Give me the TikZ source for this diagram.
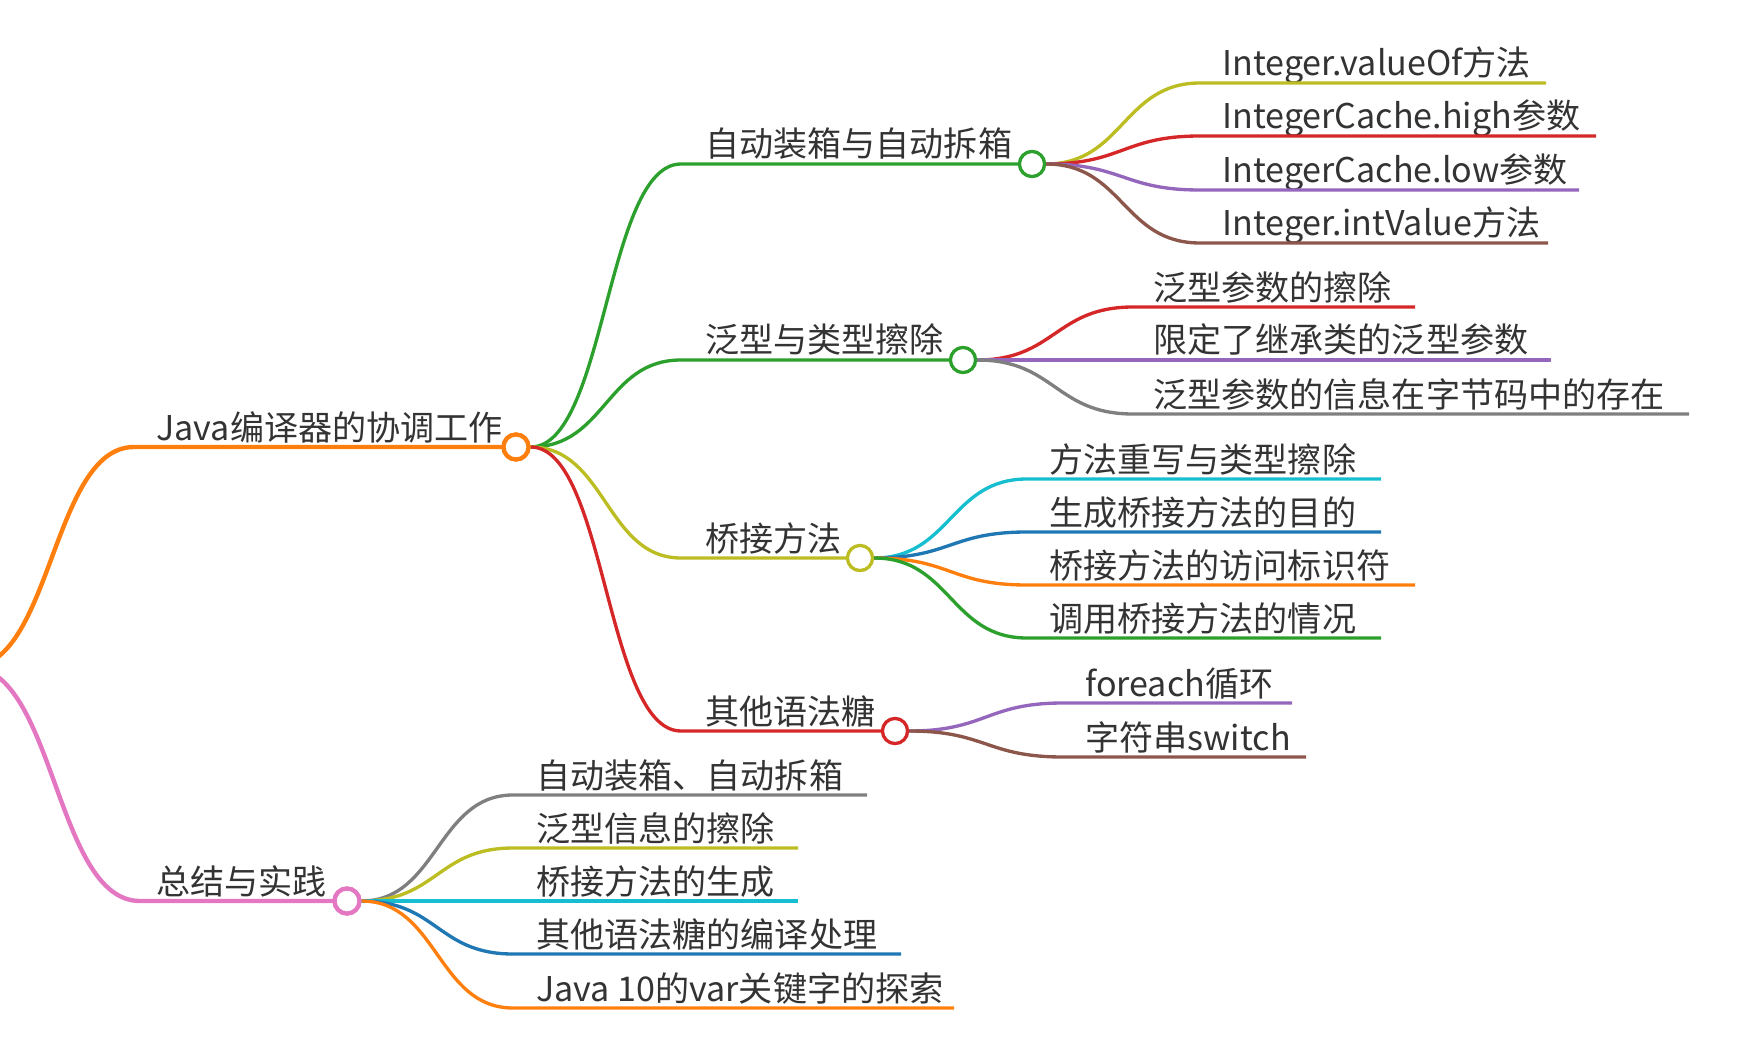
\documentclass[tikz,border=0pt]{standalone}
\usepackage{fontspec}
\setmainfont{Noto Sans CJK SC}
\usetikzlibrary{calc}
\definecolor{cOrange}{HTML}{FF7F0E}
\definecolor{cGreen}{HTML}{2CA02C}
\definecolor{cRed}{HTML}{D62728}
\definecolor{cPurple}{HTML}{9467BD}
\definecolor{cBrown}{HTML}{8C564B}
\definecolor{cPink}{HTML}{E377C2}
\definecolor{cGray}{HTML}{7F7F7F}
\definecolor{cOlive}{HTML}{BCBD22}
\definecolor{cCyan}{HTML}{17BECF}
\definecolor{cBlue}{HTML}{1F77B4}
\definecolor{textgray}{HTML}{333333}
\tikzset{
  branch/.style={to path={let \p1=(\tikztostart), \p2=(\tikztotarget) in
     .. controls ({(\x1+\x2)/2},\y1) and ({(\x1+\x2)/2},\y2) .. (\tikztotarget)}},
  dot/.style={circle,draw,fill=white,line width=1.8pt,minimum size=0.5cm,inner sep=0pt},
  lbl/.style={anchor=base west,inner sep=0pt,text=textgray,font=\fontsize{19.4}{23}\selectfont},
  thick1/.style={line width=2.5pt},
  thick2/.style={line width=1.9pt},
}
\begin{document}
\begin{tikzpicture}[x=0.02cm,y=-0.02cm]
\useasboundingbox (0,0) rectangle (1750,1057);
\coordinate (root) at (-30,667);

% ---------- level 1 ----------
\coordinate (js) at (134,447);
\node[lbl] (jt) at (156,440) {Java编译器的协调工作};
\draw[cOrange,thick1] (root) to[branch] (js) -- (516,447);
\node[dot,draw=cOrange,line width=2.4pt] (jc) at (516,447) {};

\coordinate (ss) at (140,901);
\node[lbl] (st) at (156,894) {总结与实践};
\draw[cPink,thick1] (root) to[branch] (ss) -- (347,901);
\node[dot,draw=cPink,line width=2.4pt] (sc) at (347,901) {};

% ---------- level 2 ----------
\coordinate (as) at (681,164);
\coordinate (gs) at (681,360);
\coordinate (bs) at (681,558);
\coordinate (os) at (681,731);
\node[lbl] (at) at (705,157) {自动装箱与自动拆箱};
\node[lbl] (gt) at (705,353) {泛型与类型擦除};
\node[lbl] (bt) at (705,551) {桥接方法};
\node[lbl] (ot) at (705,724) {其他语法糖};
\draw[cGreen,thick2] (jc.east) to[branch] (as) -- (1032,164);
\draw[cGreen,thick2] (jc.east) to[branch] (gs) -- (963,360);
\draw[cOlive,thick2] (jc.east) to[branch] (bs) -- (860,558);
\draw[cRed,thick2] (jc.east) to[branch] (os) -- (895,731);
\node[dot,draw=cGreen] (ac) at (1032,164) {};
\node[dot,draw=cGreen] (gc) at (963,360) {};
\node[dot,draw=cOlive] (bc) at (860,558) {};
\node[dot,draw=cRed] (oc) at (895,731) {};

% ---------- auto boxing children ----------
\foreach \k/\yv/\ev/\cv/\tv in {1/83/1546/cOlive/Integer.valueOf方法,
                             2/136/1596/cRed/IntegerCache.high参数,
                             3/190/1579/cPurple/IntegerCache.low参数,
                             4/243/1548/cBrown/Integer.intValue方法}{
  \coordinate (a\k s) at (1200,\yv);
  \coordinate (a\k e) at (\ev,\yv);
  \node[lbl] (a\k t) at (1222,\yv-7) {\tv};
  \draw[\cv,thick2] (ac.east) to[branch] (a\k s) -- (a\k e);
}
% ---------- generics children ----------
\foreach \k/\yv/\ev/\cv/\tv in {1/307/1415/cRed/泛型参数的擦除,
                             2/360/1551/cPurple/限定了继承类的泛型参数,
                             3/414/1689/cGray/泛型参数的信息在字节码中的存在}{
  \coordinate (g\k s) at (1133,\yv);
  \coordinate (g\k e) at (\ev,\yv);
  \node[lbl] (g\k t) at (1153,\yv-7) {\tv};
  \draw[\cv,thick2] (gc.east) to[branch] (g\k s) -- (g\k e);
}
% ---------- bridge children ----------
\foreach \k/\yv/\ev/\cv/\tv in {1/479/1381/cCyan/方法重写与类型擦除,
                             2/532/1381/cBlue/生成桥接方法的目的,
                             3/585/1415/cOrange/桥接方法的访问标识符,
                             4/638/1381/cGreen/调用桥接方法的情况}{
  \coordinate (b\k s) at (1027,\yv);
  \coordinate (b\k e) at (\ev,\yv);
  \node[lbl] (b\k t) at (1049,\yv-7) {\tv};
  \draw[\cv,thick2] (bc.east) to[branch] (b\k s) -- (b\k e);
}
% ---------- other sugar children ----------
\foreach \k/\yv/\ev/\cv/\tv in {1/703/1292/cPurple/foreach循环,
                             2/757/1306/cBrown/字符串switch}{
  \coordinate (o\k s) at (1063,\yv);
  \coordinate (o\k e) at (\ev,\yv);
  \node[lbl] (o\k t) at (1085,\yv-7) {\tv};
  \draw[\cv,thick2] (oc.east) to[branch] (o\k s) -- (o\k e);
}
% ---------- summary children ----------
\foreach \k/\yv/\ev/\cv/\tv in {1/795/867/cGray/自动装箱、自动拆箱,
                             2/848/798/cOlive/泛型信息的擦除,
                             3/901/798/cCyan/桥接方法的生成,
                             4/954/901/cBlue/其他语法糖的编译处理,
                             5/1008/954/cOrange/Java 10的var关键字的探索}{
  \coordinate (s\k s) at (513,\yv);
  \coordinate (s\k e) at (\ev,\yv);
  \node[lbl] (s\k t) at (536,\yv-7) {\tv};
  \draw[\cv,thick2] (sc.east) to[branch] (s\k s) -- (s\k e);
}
% redraw circles on top
\node[dot,draw=cOrange,line width=2.4pt] at (jc) {};
\node[dot,draw=cPink,line width=2.4pt] at (sc) {};
\node[dot,draw=cGreen] at (ac) {};
\node[dot,draw=cGreen] at (gc) {};
\node[dot,draw=cOlive] at (bc) {};
\node[dot,draw=cRed] at (oc) {};
\end{tikzpicture}
\end{document}
